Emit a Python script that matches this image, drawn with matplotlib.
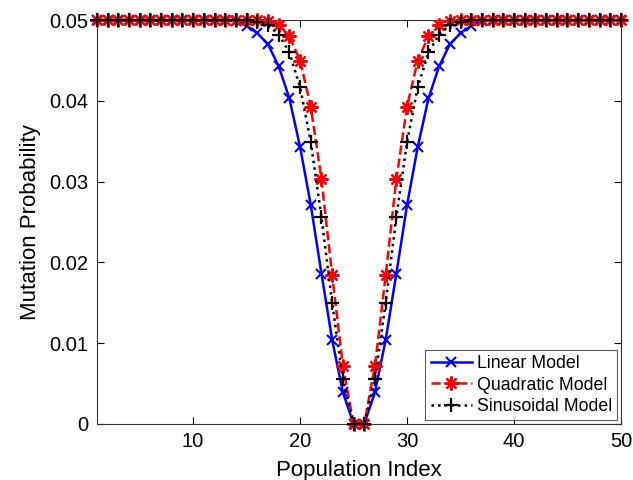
import matplotlib
matplotlib.use("Agg")
import matplotlib.pyplot as plt
import numpy as np

plt.rcParams['font.family'] = ['Liberation Sans', 'DejaVu Sans']

population_index = list(range(1, 51))

linear_model = [0.05]*13 + [0.0499, 0.0493, 0.0484, 0.0470, 0.0443, 0.0403, 0.0343,
                            0.0271, 0.0186, 0.0104, 0.0039, 0.0, 0.0, 0.0039, 0.0104,
                            0.0186, 0.0271, 0.0343, 0.0403, 0.0443, 0.0470, 0.0484,
                            0.0493, 0.0499] + [0.05]*13

quadratic_model = [0.05]*16 + [0.0499, 0.0494, 0.0480, 0.0450, 0.0393, 0.0303, 0.0184,
                               0.0072, 0.0, 0.0, 0.0072, 0.0184, 0.0303, 0.0393,
                               0.0450, 0.0480, 0.0494, 0.0499] + [0.05]*16

sinusoidal_model = [0.05]*15 + [0.0498, 0.0494, 0.0482, 0.0460, 0.0417, 0.0349, 0.0256,
                                0.0150, 0.0055, 0.0, 0.0, 0.0055, 0.0150, 0.0256,
                                0.0349, 0.0417, 0.0460, 0.0482, 0.0494, 0.0498] + [0.05]*15

x_ticks = [10, 20, 30, 40, 50]
y_ticks = [0, 0.01, 0.02, 0.03, 0.04, 0.05]
y_tick_labels = ['0', '0.01', '0.02', '0.03', '0.04', '0.05']

fig = plt.figure(figsize=(6.33, 4.8), dpi=100)
ax = fig.add_axes([0.153, 0.117, 0.828, 0.841])

ax.plot(population_index, linear_model, color='#0000ff', linestyle='-', linewidth=1.8,
        marker='x', markersize=7, markeredgewidth=1.5, label='Linear Model', clip_on=False, zorder=3)
ax.plot(population_index, quadratic_model, color='#ff0000', linestyle='--', linewidth=1.8,
        marker=(8, 2, 0), markersize=10, markeredgewidth=1.6, label='Quadratic Model', clip_on=False, zorder=4)
ax.plot(population_index, sinusoidal_model, color='black', linestyle=':', linewidth=1.8,
        marker='+', markersize=10, markeredgewidth=1.6, label='Sinusoidal Model', clip_on=False, zorder=5)

ax.set_xlim(1, 50)
ax.set_ylim(0, 0.05)
ax.set_xticks(x_ticks)
ax.set_yticks(y_ticks)
ax.set_yticklabels(y_tick_labels)
ax.tick_params(direction='in', top=True, right=True, labelsize=14.5, length=5, width=0.8, pad=6)
ax.set_xlabel('Population Index', fontsize=16, labelpad=6)
ax.set_ylabel('Mutation Probability', fontsize=16, labelpad=6)
for s in ax.spines.values():
    s.set_linewidth(0.8)
    s.set_color('#333333')

leg = ax.legend(loc='lower right', fontsize=12.8, frameon=True, fancybox=False,
                edgecolor='#333333', handlelength=2.3, borderpad=0.3, labelspacing=0.25,
                handletextpad=0.3, borderaxespad=0.2)
leg.get_frame().set_linewidth(0.8)

fig.savefig('out.png', dpi=100)
